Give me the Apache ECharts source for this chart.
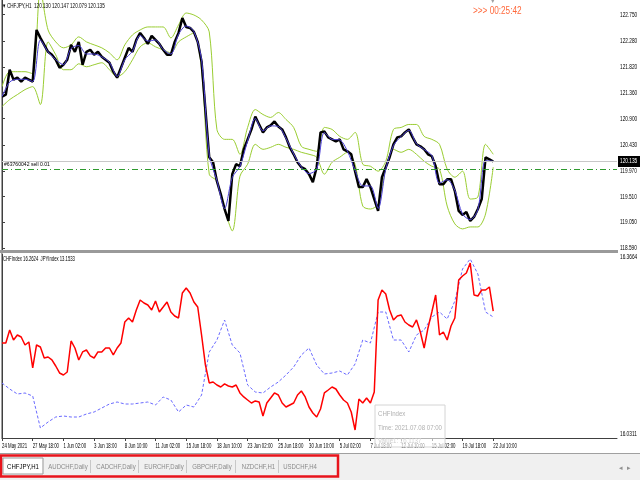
<!DOCTYPE html>
<html><head><meta charset="utf-8">
<script src="https://cdn.jsdelivr.net/npm/echarts/dist/echarts.min.js"></script>
<style>html,body{margin:0;padding:0;background:#fff}#c{width:640px;height:480px}</style>
</head><body><div id="c"></div><script>
// ---- data ----
const BARS_PER_LABEL = 64;   // H1 bars between time labels
const STEP_FINE = 8;         // bars between samples (close, CHF index)
const STEP_COARSE = 16;      // bars between samples (MA, bands, JPY index)
const X_MAX = 1282;          // bars visible in the window
const timeLabels = ['24 May 2021','27 May 18:00','1 Jun 02:00','3 Jun 18:00','8 Jun 10:00','11 Jun 02:00','15 Jun 18:00','18 Jun 10:00','23 Jun 02:00','25 Jun 18:00','30 Jun 10:00','5 Jul 02:00','7 Jul 18:00','12 Jul 10:00','15 Jul 02:00','19 Jul 18:00','22 Jul 10:00'];
const priceTicks = [122.750,122.280,121.820,121.360,120.900,120.430,119.970,119.510,119.050,118.590];
const priceClose = [
121.292,121.327,121.770,121.593,121.628,121.557,121.628,121.593,121.557,122.479,
122.337,122.213,122.089,122.036,121.947,121.806,121.859,121.947,122.213,122.089,
122.266,121.859,122.089,122.124,122.036,122.089,122.000,121.947,121.894,121.735,
121.628,121.806,121.983,122.160,122.089,122.302,122.426,122.337,122.231,122.373,
122.302,122.231,122.124,122.036,122.036,122.266,122.426,122.692,122.532,122.514,
122.444,122.266,121.912,121.061,120.211,120.122,119.785,119.555,119.289,119.077,
119.910,120.087,120.051,120.352,120.530,120.707,120.937,120.795,120.654,120.742,
120.778,120.849,120.760,120.707,120.565,120.388,120.264,120.122,120.034,119.998,
119.910,119.768,120.034,120.654,120.671,120.565,120.530,120.494,120.530,120.352,
120.317,120.264,119.963,119.679,119.679,119.821,119.679,119.467,119.254,119.856,
120.034,120.211,120.441,120.565,120.583,120.654,120.707,120.565,120.441,120.406,
120.352,120.264,120.229,120.051,119.732,119.732,119.821,119.821,119.608,119.254,
119.183,119.236,119.077,119.148,119.289,119.467,120.211,120.175,120.135];
const priceMA = [
121.29,121.55,121.60,121.60,121.56,122.30,122.09,121.95,121.86,122.15,
122.20,122.05,122.05,122.00,121.90,121.65,121.95,122.10,122.38,122.28,
122.30,122.13,122.05,122.40,122.55,122.45,121.95,120.25,119.80,119.30,
119.85,120.05,120.50,120.90,120.68,120.77,120.76,120.55,120.27,120.04,
119.92,120.00,120.65,120.53,120.52,120.32,119.98,119.70,119.70,119.30,
120.00,120.42,120.58,120.69,120.45,120.35,120.24,119.75,119.81,119.62,
119.20,119.10,119.28,120.15,120.14];
const bandUpper = [
121.469,121.735,121.735,121.735,121.699,123.188,122.479,122.266,122.160,122.213,
122.355,122.266,122.213,122.160,122.071,121.947,122.213,122.390,122.479,122.532,
122.532,122.532,122.337,122.568,122.780,122.745,122.656,122.444,120.707,120.530,
120.530,120.264,120.742,121.061,120.973,120.920,121.008,120.884,120.742,120.406,
120.352,120.317,120.742,120.707,120.583,120.530,120.654,120.087,120.051,119.963,
120.140,120.707,120.742,120.795,120.795,120.583,120.530,120.441,119.998,119.856,
119.963,119.467,119.502,120.441,120.264];
const bandLower = [
121.114,121.238,121.327,121.416,121.469,121.150,122.266,122.036,121.770,121.770,
121.876,121.823,121.859,121.894,121.770,121.646,121.735,121.947,122.178,122.249,
122.178,122.124,122.071,122.266,122.355,122.426,121.770,119.910,119.785,119.289,
118.899,119.874,120.087,120.441,120.352,120.388,120.441,120.388,120.352,120.299,
120.264,120.211,119.910,120.122,120.211,120.299,120.087,119.342,119.289,119.378,
119.998,120.352,120.299,120.352,120.264,120.140,120.051,119.998,119.342,119.024,
118.935,118.970,118.970,119.201,120.034];
const chfIndex = [
16.2043,16.2043,16.2279,16.2097,16.2188,16.2152,16.2006,16.2061,16.1587,16.2006,
16.1970,16.1769,16.1787,16.1733,16.1623,16.1496,16.1459,16.1514,16.2079,16.1951,
16.1733,16.1879,16.1915,16.1806,16.1769,16.1879,16.1879,16.1951,16.1951,16.1824,
16.1951,16.2043,16.2425,16.2498,16.2425,16.2644,16.2826,16.2771,16.2735,16.2644,
16.2808,16.2607,16.2698,16.2790,16.2607,16.2534,16.2498,16.2954,16.3045,16.2954,
16.2790,16.2698,16.2188,16.1642,16.1314,16.1332,16.1277,16.1241,16.1296,16.1259,
16.1241,16.1277,16.1132,16.1059,16.1004,16.0949,16.0986,16.0968,16.0712,16.0949,
16.1040,16.1132,16.1095,16.0949,16.0876,16.0913,16.0949,16.1095,16.1168,16.1059,
16.0876,16.0767,16.0694,16.0840,16.1132,16.1186,16.1241,16.1204,16.1095,16.1004,
16.0949,16.0785,16.0457,16.1022,16.0949,16.1040,16.0949,16.1150,16.2826,16.3008,
16.2935,16.2644,16.2462,16.2534,16.2553,16.2425,16.2370,16.2334,16.2462,16.2243,
16.1951,16.2316,16.2607,16.2917,16.2188,16.2243,16.2097,16.2352,16.2498,16.3190,
16.3263,16.3318,16.3500,16.2917,16.2899,16.3008,16.3008,16.3063,16.2624];
const jpyIndex = [
13.0213,13.0093,12.9993,13.0013,12.9953,12.9313,12.9433,12.9533,12.9553,12.9533,
12.9533,12.9593,12.9633,12.9713,12.9793,12.9833,12.9793,12.9793,12.9813,12.9833,
12.9773,12.9933,12.9873,12.9633,12.9773,12.9733,12.9973,13.0833,13.1073,13.1473,
13.0973,13.0813,13.0173,13.0033,13.0013,13.0133,13.0233,13.0373,13.0533,13.0773,
13.0913,13.0573,13.0393,13.0413,13.0453,13.0373,13.0593,13.1073,13.1013,13.1633,
13.1633,13.1073,13.1073,13.0833,13.1173,13.1273,13.1533,13.1633,13.1493,13.1853,
13.2493,13.2693,13.2393,13.1633,13.1533];
const indexAxisLabels = ['16.3664','16.0311'];
const bidPrice = 120.135;
const orderPrice = 120.005;
const tabNames = ['CHFJPY,H1','AUDCHF,Daily','CADCHF,Daily','EURCHF,Daily','GBPCHF,Daily','NZDCHF,H1','USDCHF,H4'];

// ---- build ----
const pairs = (arr, step) => arr.map((v, i) => [i * step, v]);
const labelPos = timeLabels.map((_, i) => i * BARS_PER_LABEL);
const FONT = '"Liberation Sans",Arial,sans-serif';

const chart = echarts.init(document.getElementById('c'), null, {renderer: 'canvas'});

chart.setOption({
  animation: false,
  backgroundColor: '#fff',
  grid: [
    {left: 2, right: 23, top: 0, height: 250},
    {left: 2, right: 23, top: 254, height: 184}
  ],
  xAxis: [
    {gridIndex: 0, type: 'value', min: 0, max: X_MAX, show: false},
    {gridIndex: 1, type: 'value', min: 0, max: X_MAX,
      axisLine: {show: true, lineStyle: {color: '#404040', width: 1}},
      splitLine: {show: false},
      axisTick: {show: true, customValues: labelPos, length: 3, lineStyle: {color: '#404040'}},
      axisLabel: {show: false}}
  ],
  yAxis: [
    {gridIndex: 0, type: 'value', position: 'right', min: 118.559, max: 123.012,
      axisLine: {show: true, lineStyle: {color: '#404040'}},
      splitLine: {show: false},
      axisTick: {show: true, customValues: priceTicks, length: 3, lineStyle: {color: '#404040'}},
      axisLabel: {show: false}},
    {gridIndex: 1, type: 'value', position: 'right', min: 16.0311, max: 16.3664,
      axisLine: {show: true, lineStyle: {color: '#404040'}},
      splitLine: {show: false}, axisTick: {show: false}, axisLabel: {show: false}},
    {gridIndex: 1, type: 'value', min: 12.9113, max: 13.2793, show: false}
  ],
  series: [
    {type: 'line', xAxisIndex: 0, yAxisIndex: 0, data: pairs(bandUpper, STEP_COARSE), showSymbol: false, smooth: 0.3,
      lineStyle: {color: '#9acd32', width: 1}},
    {type: 'line', xAxisIndex: 0, yAxisIndex: 0, data: pairs(bandLower, STEP_COARSE), showSymbol: false, smooth: 0.3,
      lineStyle: {color: '#9acd32', width: 1}},
    {type: 'line', xAxisIndex: 0, yAxisIndex: 0, data: pairs(priceClose, STEP_FINE), showSymbol: false,
      lineStyle: {color: '#000', width: 2.5},
      markLine: {silent: true, symbol: 'none', label: {show: false}, data: [
        {yAxis: bidPrice, lineStyle: {color: '#c8c8c8', width: 1, type: 'solid'}},
        {yAxis: orderPrice, lineStyle: {color: '#2e9a2e', width: 1, type: [6, 3, 1, 3]}}
      ]}},
    {type: 'line', xAxisIndex: 0, yAxisIndex: 0, data: pairs(priceMA, STEP_COARSE), showSymbol: false, smooth: 0.3,
      lineStyle: {color: '#4b3fd6', width: 1}},
    {type: 'line', xAxisIndex: 1, yAxisIndex: 2, data: pairs(jpyIndex, STEP_COARSE), showSymbol: false,
      lineStyle: {color: '#6a6aff', width: 1, type: [3, 2]}},
    {type: 'line', xAxisIndex: 1, yAxisIndex: 1, data: pairs(chfIndex, STEP_FINE), showSymbol: false,
      lineStyle: {color: '#ff0000', width: 1.5}}
  ]
});

// compressed (MetaTrader-like) text helper
function txt(x, y, text, size, color, sx, align, z) {
  return {type: 'text', x: x, y: y, scaleX: sx, z: z || 10,
    style: {text: text, fill: color, font: size + 'px ' + FONT, align: align || 'left', verticalAlign: 'middle'}};
}

const g = [];
// frame & separators
g.push({type: 'line', shape: {x1: 1.5, y1: 0, x2: 1.5, y2: 439}, style: {stroke: '#a0a0a0', lineWidth: 1}, z: 10});
g.push({type: 'rect', shape: {x: 0, y: 250, width: 618, height: 3}, style: {fill: '#9a9a9a'}, z: 10});
g.push({type: 'rect', shape: {x: 0, y: 453, width: 640, height: 27}, style: {fill: '#f0f0f0'}, z: 1});
g.push({type: 'line', shape: {x1: 0, y1: 453.5, x2: 640, y2: 453.5}, style: {stroke: '#a0a0a0', lineWidth: 1}, z: 2});

// time labels along the bottom axis (positions from the axis scale)
timeLabels.forEach((t, i) => {
  const px = chart.convertToPixel({xAxisIndex: 1}, labelPos[i]);
  g.push(txt(px, 446.5, t, 7, '#000', 0.62));
});
// price labels on the right axis
priceTicks.forEach(v => {
  const py = chart.convertToPixel({yAxisIndex: 0}, v);
  g.push(txt(620, py, v.toFixed(3), 7, '#000', 0.68));
});
// index window min/max labels
const yTop = chart.convertToPixel({yAxisIndex: 1}, 16.3664);
const yBot = chart.convertToPixel({yAxisIndex: 1}, 16.0311);
g.push(txt(620, yTop + 3.5, indexAxisLabels[0], 7, '#000', 0.68));
g.push(txt(620, yBot - 3.5, indexAxisLabels[1], 7, '#000', 0.68));

// header texts
g.push(txt(3, 6, '▾ CHFJPY,H1  120.130 120.147 120.079 120.135', 7, '#000', 0.66));
g.push(txt(473, 11, '>>> 00:25:42', 10, '#ff6a3d', 0.82));
g.push(txt(493, 1, '▾', 7, '#a0a0a0', 1, 'center'));
g.push(txt(4, 164, '#63760042 sell 0.01', 6, '#000', 0.85));
// bid price tag
const yBid = chart.convertToPixel({yAxisIndex: 0}, bidPrice);
g.push({type: 'rect', shape: {x: 618, y: yBid - 5.5, width: 22, height: 11}, style: {fill: '#000'}, z: 10});
g.push(txt(620, yBid, bidPrice.toFixed(3), 7, '#fff', 0.68, 'left', 11));
// indicator caption
g.push(txt(3, 259, 'CHFIndex 16.2624  JPYIndex 13.1533', 7, '#000', 0.6));
// data window tooltip
g.push({type: 'rect', shape: {x: 375, y: 405, width: 70, height: 42}, style: {fill: 'rgba(255,255,255,0.6)', stroke: '#d4d4d4', lineWidth: 1}, z: 20});
g.push(txt(378, 414, 'CHFIndex', 8, '#b0b0b0', 0.76, 'left', 21));
g.push(txt(378, 428, 'Time: 2021.07.08 07:00', 8, '#b0b0b0', 0.76, 'left', 21));
g.push(txt(378, 441, 'Value1: 16.1137', 8, '#cfcfcf', 0.76, 'left', 21));

// tabs
const tabX = [3, 45, 93, 141, 189, 238, 281];
const tabW = [40, 46, 46, 46, 46, 41, 38];
tabNames.forEach((t, i) => {
  if (i === 0) {
    g.push({type: 'rect', shape: {x: tabX[i], y: 458, width: tabW[i], height: 16}, style: {fill: '#fff', stroke: '#9a9a9a', lineWidth: 1}, z: 5});
  } else {
    g.push({type: 'line', shape: {x1: tabX[i] - 2.5, y1: 460, x2: tabX[i] - 2.5, y2: 473}, style: {stroke: '#c8c8c8', lineWidth: 1}, z: 5});
  }
  const tx = txt(tabX[i] + tabW[i] / 2, 467, t, 8, i === 0 ? '#000' : '#8a8a8a', 0.75, 'center', 6);
  g.push(tx);
});
g.push({type: 'rect', shape: {x: 1, y: 455.5, width: 337, height: 21}, style: {fill: 'none', stroke: '#e8141c', lineWidth: 2.5}, z: 30});
g.push(txt(625, 468, '◂  ▸', 7, '#909090', 1, 'center'));

chart.setOption({graphic: g});
</script></body></html>
